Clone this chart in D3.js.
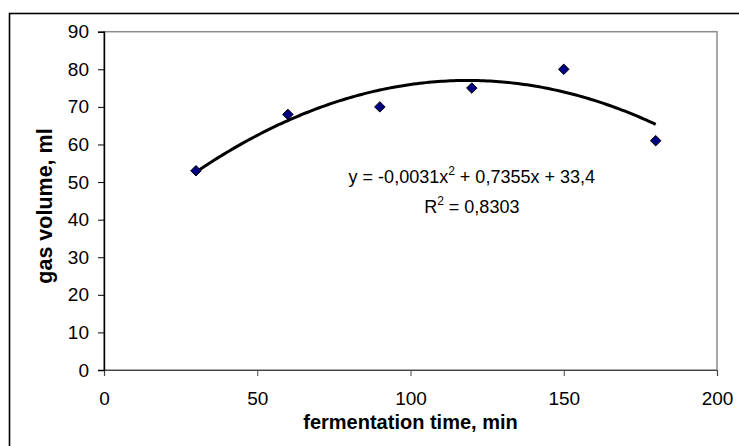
<!DOCTYPE html>
<html>
<head>
<meta charset="utf-8">
<script src="https://cdn.jsdelivr.net/npm/d3@7"></script>
<style>
  body { margin: 0; background: #fff; }
  svg text { font-family: "Liberation Sans", Arial, sans-serif; }
</style>
</head>
<body>
<div id="chart"></div>
<script>
// measured points
var times = [30, 60, 90, 120, 150, 180]
var volumes = [53, 68, 70, 75, 80, 61]
// trendline coefficients as printed on the chart: a*x^2 + b*x + c
var trendCoef = [-0.0031, 0.7355, 33.4]
var xTicks = [0, 50, 100, 150, 200]
var yTicks = [0, 10, 20, 30, 40, 50, 60, 70, 80, 90]

var W = 739, H = 446
var margin = {top: 31.7, right: 22, bottom: 76, left: 104}
var width = W - margin.left - margin.right,
    height = H - margin.top - margin.bottom

var svg = d3.select("#chart").append("svg")
    .attr("width", W)
    .attr("height", H)

// outer frame (right and bottom sides run off the picture)
svg.append("rect")
    .attr("x", 9.5).attr("y", 13.5)
    .attr("width", 760).attr("height", 460)
    .attr("fill", "none")
    .attr("stroke", "#000")
    .attr("stroke-width", 1.6)

var g = svg.append("g")
    .attr("transform", "translate(" + margin.left + "," + margin.top + ")")

var x = d3.scaleLinear().domain([0, 200]).range([0, width])
var y = d3.scaleLinear().domain([0, 90]).range([height, 0])

// plot area border (gray)
g.append("rect")
    .attr("x", 0).attr("y", 0)
    .attr("width", width).attr("height", height)
    .attr("fill", "none")
    .attr("stroke", "#8c8c8c")
    .attr("stroke-width", 1.5)

var xAxis = g.append("g")
    .attr("transform", "translate(0," + height + ")")
    .call(d3.axisBottom(x).tickValues(xTicks).tickSize(6).tickPadding(16))
xAxis.select(".domain").attr("stroke", "#444").attr("stroke-width", 1.2)
xAxis.selectAll(".tick line").attr("stroke", "#444")

var yAxis = g.append("g")
    .call(d3.axisLeft(y).tickValues(yTicks).tickSize(6).tickPadding(9))
yAxis.select(".domain").attr("stroke", "#000").attr("stroke-width", 1.4)

svg.selectAll(".tick text")
    .attr("font-size", 19)
    .attr("fill", "#000")
    .style("font-family", "'Liberation Sans', Arial, sans-serif")

// trendline from the coefficients
var trendX = d3.range(times[0], times[times.length - 1] + 0.5, 1)
var trend = trendX.map(function (t) {
    return {t: t, v: trendCoef[0] * t * t + trendCoef[1] * t + trendCoef[2]}
})
var line = d3.line()
    .x(function (d) { return x(d.t) })
    .y(function (d) { return y(d.v) })

g.append("path")
    .datum(trend)
    .attr("d", line)
    .attr("fill", "none")
    .attr("stroke", "#000")
    .attr("stroke-width", 3)

// diamond markers
var diamond = d3.symbol().type(d3.symbolDiamond2).size(70)
g.selectAll(".pt")
    .data(times)
    .enter().append("path")
    .attr("class", "pt")
    .attr("transform", function (d, i) {
        return "translate(" + x(d) + "," + y(volumes[i]) + ")"
    })
    .attr("d", diamond)
    .attr("fill", "#000080")
    .attr("stroke", "#000")
    .attr("stroke-width", 1)

// equation label
var eq = g.append("text")
    .attr("x", x(120)).attr("y", 183 - margin.top)
    .attr("text-anchor", "middle")
    .attr("font-size", 18)
eq.append("tspan").text("y = -0,0031x")
eq.append("tspan").attr("font-size", 12).attr("dy", -8).text("2")
eq.append("tspan").attr("dy", 8).text(" + 0,7355x + 33,4")

var r2 = g.append("text")
    .attr("x", x(120)).attr("y", 213 - margin.top)
    .attr("text-anchor", "middle")
    .attr("font-size", 18)
r2.append("tspan").text("R")
r2.append("tspan").attr("font-size", 12).attr("dy", -8).text("2")
r2.append("tspan").attr("dy", 8).text(" = 0,8303")

// axis titles
svg.append("text")
    .attr("x", margin.left + width / 2).attr("y", 429)
    .attr("text-anchor", "middle")
    .attr("font-size", 20)
    .attr("font-weight", "bold")
    .text("fermentation time, min")

svg.append("text")
    .attr("transform", "translate(52,206) rotate(-90)")
    .attr("text-anchor", "middle")
    .attr("font-size", 21.5)
    .attr("font-weight", "bold")
    .text("gas volume, ml")
</script>
</body>
</html>
